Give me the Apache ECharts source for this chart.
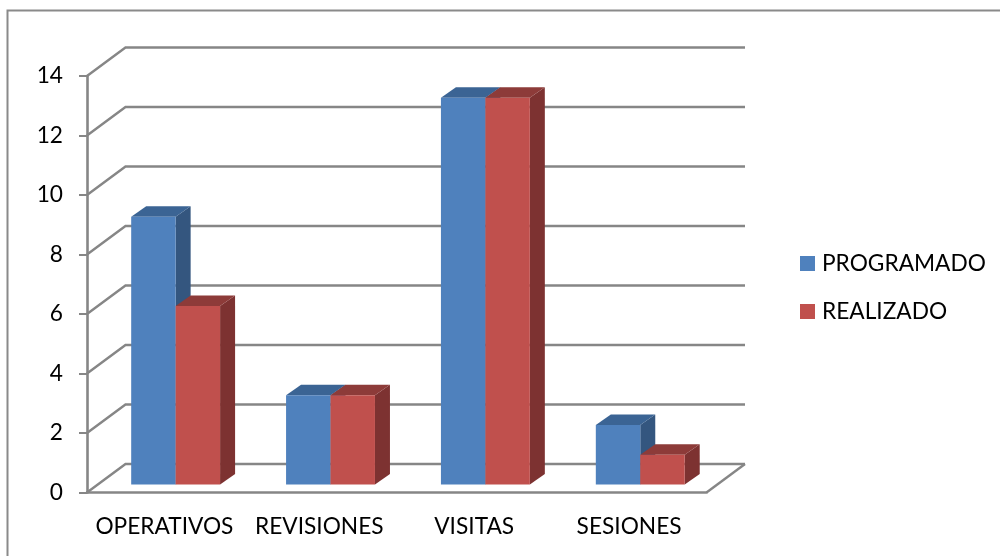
<!DOCTYPE html>
<html>
<head>
<meta charset="utf-8">
<style>html,body{margin:0;padding:0;background:#fff}#c{width:1000px;height:556px}</style>
<script src="https://cdn.jsdelivr.net/npm/echarts@6/dist/echarts.min.js"></script>
</head>
<body>
<div id="c"></div>
<script>
const categories = ['OPERATIVOS', 'REVISIONES', 'VISITAS', 'SESIONES'];
const programado = [9, 3, 13, 2];
const realizado = [6, 3, 13, 1];
const yTicks = [0, 2, 4, 6, 8, 10, 12, 14];

const FONT = 'Lato, "Open Sans", sans-serif';
const FONT_SIZE = 22.7;
const GRID = '#868686';
const BLUE = '#4F81BD';
const RED = '#C0504D';
const WALL = [38.5, -28.5];
const BAR_FRONT = [11.2, -8];
const BAR_DEPTH = [15, -10.5];
const BAR_RATIO = 0.287;

function wallLines(params, api) {
  const v = api.value(0);
  const a = api.coord([0, v]);
  const size = api.size([1, 0]);
  const left = a[0] - size[0] / 2;
  const right = left + size[0] * categories.length;
  const style = { stroke: GRID, lineWidth: 2.4, fill: null };
  const kids = [{
    type: 'polyline',
    shape: { points: [[left, a[1]], [left + WALL[0], a[1] + WALL[1]], [right + WALL[0], a[1] + WALL[1]]] },
    style: style
  }];
  if (v === 0) {
    kids.push({
      type: 'line',
      shape: { x1: right, y1: a[1], x2: right + WALL[0], y2: a[1] + WALL[1] },
      style: style
    });
  }
  return { type: 'group', children: kids };
}

function barRenderer(side, front, sideColor, topColor) {
  return function (params, api) {
    const c = api.value(0);
    const top = api.coord([c, api.value(1)]);
    const base = api.coord([c, 0]);
    const w = api.size([1, 0])[0] * BAR_RATIO;
    const x0 = base[0] + BAR_FRONT[0] + (side < 0 ? -w : 0);
    const x1 = x0 + w;
    const yb = base[1] + BAR_FRONT[1];
    const yt = top[1] + BAR_FRONT[1];
    const dx = BAR_DEPTH[0], dy = BAR_DEPTH[1];
    return {
      type: 'group',
      children: [
        { type: 'polygon', shape: { points: [[x1, yb], [x1 + dx, yb + dy], [x1 + dx, yt + dy], [x1, yt]] }, style: { fill: sideColor } },
        { type: 'polygon', shape: { points: [[x0, yt], [x1, yt], [x1 + dx, yt + dy], [x0 + dx, yt + dy]] }, style: { fill: topColor } },
        { type: 'rect', shape: { x: x0, y: yt, width: w, height: yb - yt }, style: { fill: front } }
      ]
    };
  };
}

const chart = echarts.init(document.getElementById('c'), null, { renderer: 'canvas' });
chart.setOption({
  animation: false,
  backgroundColor: '#fff',
  grid: { left: 87, right: 293.5, top: 76, bottom: 63.5 },
  graphic: [{
    type: 'polyline',
    silent: true,
    shape: { points: [[7.5, 556], [7.5, 10.5], [1000, 10.5]] },
    style: { stroke: '#8a8a8a', lineWidth: 2, fill: null }
  }],
  legend: {
    left: 800, top: 252,
    padding: 0,
    orient: 'vertical',
    icon: 'rect',
    itemWidth: 15, itemHeight: 15,
    itemGap: 25,
    data: ['PROGRAMADO', 'REALIZADO'],
    textStyle: { fontFamily: FONT, fontSize: FONT_SIZE, color: '#000', padding: [0, 0, 0, 2] }
  },
  xAxis: {
    type: 'category',
    data: categories,
    axisLine: { lineStyle: { color: GRID, width: 2.6 } },
    axisTick: { length: 8, lineStyle: { color: GRID, width: 2 } },
    axisLabel: { fontFamily: FONT, fontSize: FONT_SIZE, color: '#000', margin: 23, interval: 0 },
    splitLine: { show: false }
  },
  yAxis: {
    type: 'value', min: 0, max: 14, interval: 2,
    axisLine: { show: true, lineStyle: { color: GRID, width: 2.6 } },
    axisTick: { show: true, length: 8, lineStyle: { color: GRID, width: 2 } },
    axisLabel: { fontFamily: FONT, fontSize: FONT_SIZE, color: '#000', margin: 24, padding: [3, 0, 0, 0] },
    splitLine: { show: false }
  },
  series: [
    { type: 'custom', name: 'walls', silent: true, z: 1, renderItem: wallLines,
      data: yTicks.map(v => [v]), encode: { y: 0 } },
    { type: 'custom', name: 'PROGRAMADO', z: 3, itemStyle: { color: BLUE },
      renderItem: barRenderer(-1, BLUE, '#34567F', '#3B6494'),
      data: programado.map((v, i) => [i, v]), encode: { x: 0, y: 1 } },
    { type: 'custom', name: 'REALIZADO', z: 4, itemStyle: { color: RED },
      renderItem: barRenderer(1, RED, '#7D3231', '#8D3B39'),
      data: realizado.map((v, i) => [i, v]), encode: { x: 0, y: 1 } }
  ]
});
</script>
</body>
</html>
